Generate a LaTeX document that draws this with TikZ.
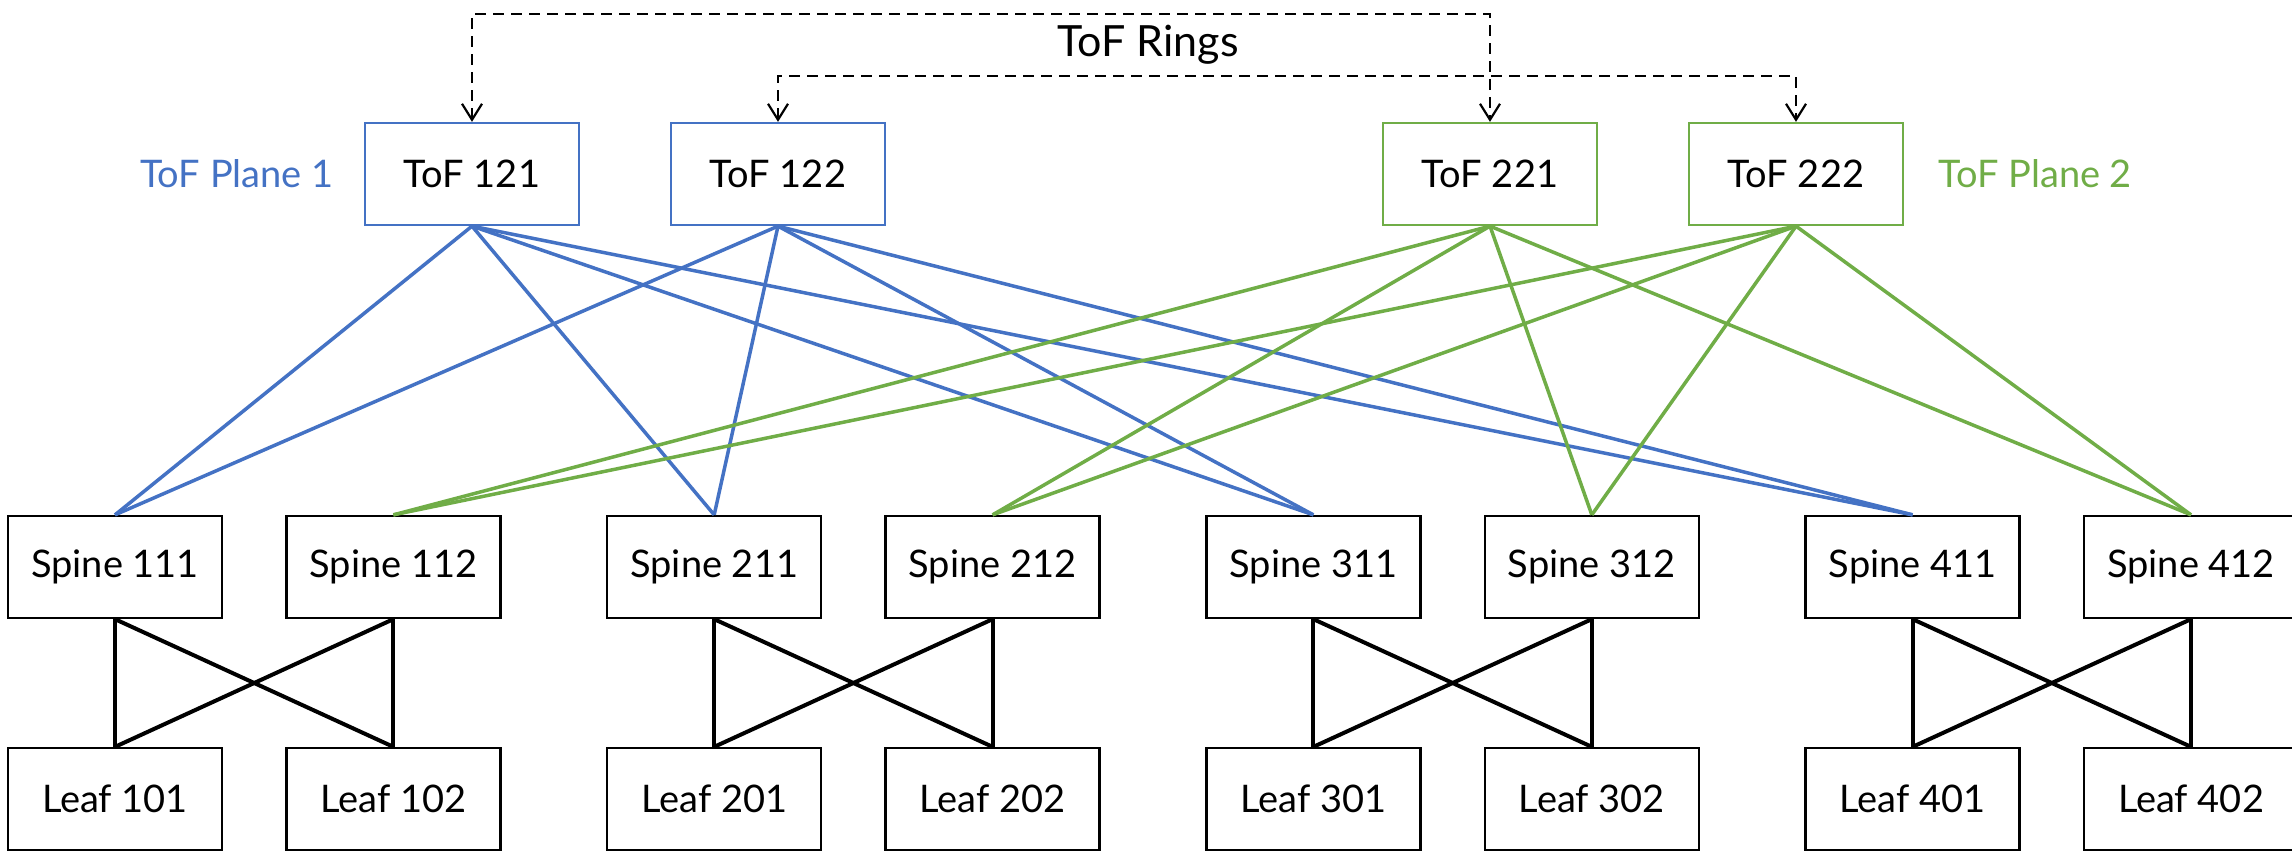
\documentclass[tikz,border=0pt]{standalone}
\usepackage{fontspec}
\setmainfont{Lato}
\usetikzlibrary{arrows.meta}
\definecolor{planeblue}{HTML}{4472C4}
\definecolor{planegreen}{HTML}{70AD47}
\begin{document}
\begin{tikzpicture}[x=0.5pt,y=-0.5pt,
  box/.style={draw, line width=1.15pt, fill=white, minimum width=107pt, minimum height=51pt, inner sep=0pt, font=\fontsize{19}{22}\selectfont},
  tofbox1/.style={box, draw=planeblue},
  tofbox2/.style={box, draw=planegreen},
  bluelink/.style={draw=planeblue, line width=1.75pt},
  greenlink/.style={draw=planegreen, line width=1.75pt},
  blacklink/.style={draw=black, line width=2pt},
  ring/.style={draw=black, line width=1.3pt, dash pattern=on 5.5pt off 3.5pt,
    {Straight Barb[length=8pt,width=10pt,line width=1.1pt]}-{Straight Barb[length=8pt,width=10pt,line width=1.1pt]}},
  planelabel/.style={font=\fontsize{19}{22}\selectfont, inner sep=0pt}
]
\useasboundingbox (0,0) rectangle (2292,851);
% ring heights
\coordinate (r1) at (0,14);
\coordinate (r2) at (0,76);
% ToF nodes
\node[tofbox1] (t121) at (472,174) {ToF 121};
\node[tofbox1] (t122) at (778,174) {ToF 122};
\node[tofbox2] (t221) at (1490,174) {ToF 221};
\node[tofbox2] (t222) at (1796,174) {ToF 222};
% spines and leaves
\foreach \g/\x in {1/115, 2/714.2, 3/1313.4, 4/1912.6} {
  \node[box] (sp\g11) at (\x,567) {Spine \g11};
  \node[box] (sp\g12) at (\x+278.4,567) {Spine \g12};
  \node[box] (lf\g01) at (\x,799) {Leaf \g01};
  \node[box] (lf\g02) at (\x+278.4,799) {Leaf \g02};
}
% labels
\node[planelabel, text=planeblue, anchor=east] (pl1) at (334,174) {ToF Plane 1};
\node[planelabel, text=planegreen, anchor=west] (pl2) at (1938,174) {ToF Plane 2};
\node[planelabel, font=\fontsize{21.5}{25}\selectfont] (rings) at (1148,45) {ToF Rings};
% plane links
\foreach \t in {t121,t122} {
  \foreach \s in {sp111,sp211,sp311,sp411} {
    \draw[bluelink] (\t.south) -- (\s.north);
  }
}
\foreach \t in {t221,t222} {
  \foreach \s in {sp112,sp212,sp312,sp412} {
    \draw[greenlink] (\t.south) -- (\s.north);
  }
}
% spine-leaf links
\foreach \g in {1,2,3,4} {
  \draw[blacklink] (sp\g11.south) -- (lf\g01.north);
  \draw[blacklink] (sp\g11.south) -- (lf\g02.north);
  \draw[blacklink] (sp\g12.south) -- (lf\g01.north);
  \draw[blacklink] (sp\g12.south) -- (lf\g02.north);
}
% rings
\draw[ring] (t121.north) -- (t121.north |- r1) -| (t221.north);
\draw[ring] (t122.north) -- (t122.north |- r2) -| (t222.north);
\end{tikzpicture}
\end{document}
